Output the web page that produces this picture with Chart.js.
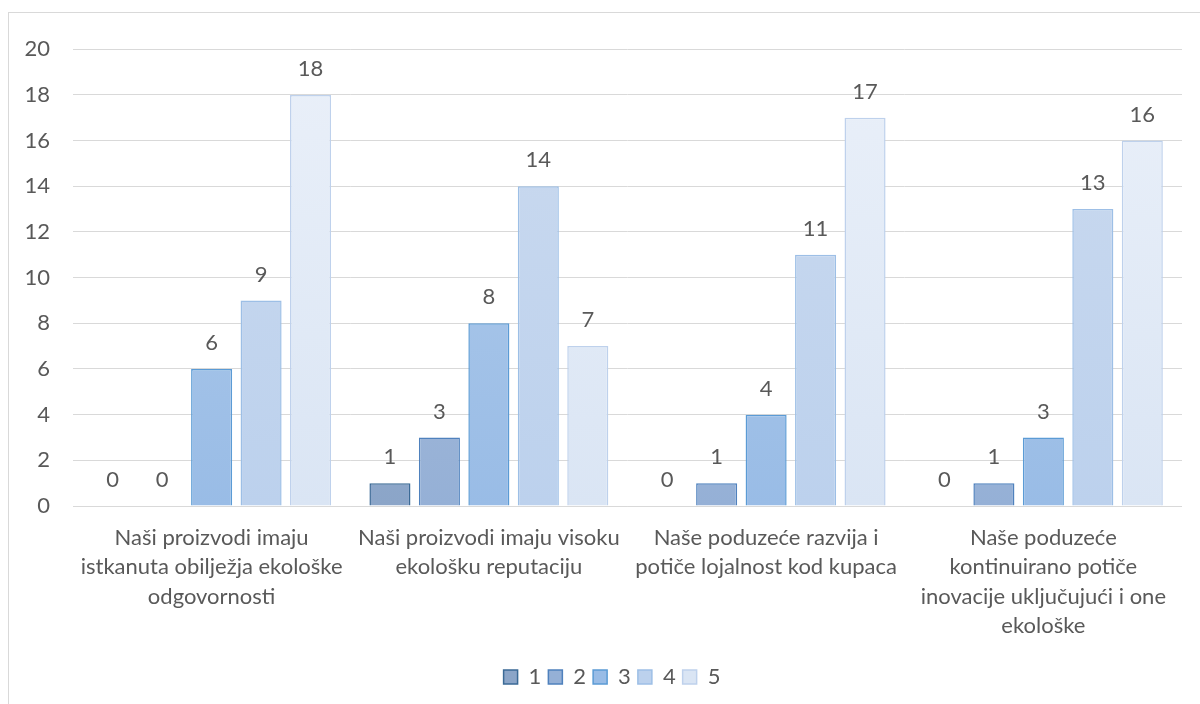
<!DOCTYPE html>
<html lang="hr">
<head>
<meta charset="UTF-8">
<title>Chart</title>
<script src="https://cdn.jsdelivr.net/npm/chart.js"></script>
<style>
  body { margin: 0; background: #fff; overflow: hidden; }
  #box { position: absolute; left: 8px; top: 12px; width: 1200px; height: 700px; border: 1px solid #d9d9d9; }
  #wrap { position: absolute; left: 0; top: 0; width: 1174px; height: 691px; }
</style>
</head>
<body>
<div id="box"><div id="wrap"><canvas id="c"></canvas></div></div>
<script>
const categories = [
  ['Naši proizvodi imaju', 'istkanuta obilježja ekološke', 'odgovornosti'],
  ['Naši proizvodi imaju visoku', 'ekološku reputaciju'],
  ['Naše poduzeće razvija i', 'potiče lojalnost kod kupaca'],
  ['Naše poduzeće', 'kontinuirano potiče', 'inovacije uključujući i one', 'ekološke']
];
const seriesNames = ['1', '2', '3', '4', '5'];
const s1 = [0, 1, 0, 0];
const s2 = [0, 3, 1, 1];
const s3 = [6, 8, 4, 3];
const s4 = [9, 14, 11, 13];
const s5 = [18, 7, 17, 16];
const yTicks = [0, 2, 4, 6, 8, 10, 12, 14, 16, 18, 20];

const fillTop = ['#a3b6d2', '#b0c2dc', '#b3cdeb', '#cbdaef', '#eaf0f9'];
const fillBot = ['#8ba5c8', '#95b0d6', '#99bce6', '#bcd1ed', '#dae5f4'];
const borders = ['#3b6a96', '#4f81bd', '#5b9bd5', '#9dbfe6', '#bed1ec'];
const font = 'Lato, "Liberation Sans", sans-serif';
const txt = '#595959';

function grad(i) {
  return function (ctx) {
    const area = ctx.chart.chartArea;
    if (!area) return fillBot[i];
    const g = ctx.chart.ctx.createLinearGradient(0, area.top, 0, area.bottom);
    g.addColorStop(0, fillTop[i]);
    g.addColorStop(1, fillBot[i]);
    return g;
  };
}

// value labels above each bar, zeros included
const valueLabels = {
  id: 'valueLabels',
  afterLayout(chart) {
    // legend in the original sits a bit right of the canvas centre
    chart.legend.left += 16;
    chart.legend.right += 16;
  },
  afterDatasetsDraw(chart) {
    const c = chart.ctx;
    c.save();
    c.font = '22px ' + font;
    c.fillStyle = txt;
    c.textAlign = 'center';
    c.textBaseline = 'middle';
    chart.data.datasets.forEach((ds, i) => {
      chart.getDatasetMeta(i).data.forEach((bar, j) => {
        c.fillText(ds.data[j], bar.x, bar.y - 26);
      });
    });
    c.restore();
  }
};

const all = [s1, s2, s3, s4, s5];
new Chart(document.getElementById('c'), {
  type: 'bar',
  data: {
    labels: categories,
    datasets: all.map((d, i) => ({
      label: seriesNames[i],
      data: d,
      backgroundColor: grad(i),
      borderColor: borders[i],
      borderWidth: 1.5,
      categoryPercentage: 0.892,
      barPercentage: 0.83
    }))
  },
  options: {
    responsive: true,
    maintainAspectRatio: false,
    animation: false,
    layout: { padding: { top: 20, right: 0, left: 0, bottom: 6 } },
    plugins: {
      tooltip: { enabled: false },
      legend: {
        position: 'bottom',
        labels: {
          boxWidth: 14,
          boxHeight: 14,
          padding: 7,
          color: txt,
          font: { size: 22, family: font },
          generateLabels(chart) {
            return chart.data.datasets.map((ds, i) => ({
              text: ds.label,
              fillStyle: fillBot[i],
              strokeStyle: borders[i],
              lineWidth: 1.5,
              fontColor: txt,
              datasetIndex: i
            }));
          }
        }
      }
    },
    scales: {
      x: {
        grid: { display: false, drawTicks: false },
        border: { color: '#d9d9d9' },
        ticks: { color: txt, font: { size: 22, family: font, lineHeight: 1.34 }, maxRotation: 0, padding: 17 },
        afterFit(scale) { scale.height = 153; }
      },
      y: {
        min: 0,
        max: 20,
        afterBuildTicks(axis) { axis.ticks = yTicks.map(v => ({ value: v })); },
        grid: { color: '#d9d9d9', drawTicks: false },
        border: { display: false },
        ticks: { color: txt, font: { size: 22, family: font }, padding: 23 },
        afterFit(scale) { scale.width = 64; }
      }
    }
  },
  plugins: [valueLabels]
});
</script>
</body>
</html>
